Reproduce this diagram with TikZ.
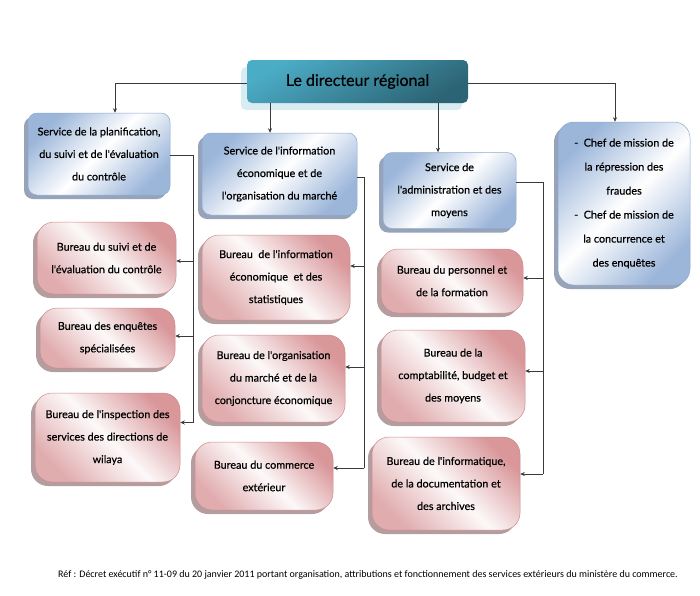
\documentclass[tikz,border=0pt]{standalone}
\usepackage{fontspec}
\setmainfont{Lato}
\newfontfamily\boxfont{Lato}[FakeBold=0.5]
\newfontfamily\footfont{Carlito}
\usetikzlibrary{shadows,arrows.meta,calc}
\definecolor{bluedk}{HTML}{9CB6DA}
\definecolor{bluebd}{HTML}{8EA9CF}
\definecolor{bluesh}{HTML}{7D8CA6}
\definecolor{pinkdk}{HTML}{D9979A}
\definecolor{pinkbd}{HTML}{CD8A8E}
\definecolor{pinksh}{HTML}{A08586}
\definecolor{tealA}{HTML}{4BACC6}
\definecolor{tealB}{HTML}{2C6475}
\definecolor{tealsh}{HTML}{D8ECF2}
\definecolor{linec}{HTML}{3A3A3A}
\begin{document}
\begin{tikzpicture}[x=1pt,y=-1pt,
  svc/.style={rectangle, rounded corners=9pt, draw=bluebd, line width=0.5pt,
    top color=bluedk, bottom color=bluedk, middle color=white, shading angle=45,
    drop shadow={shadow xshift=-4pt,shadow yshift=-4pt,fill=bluesh,opacity=0.8},
    align=center, font=\boxfont\fontsize{10.8}{22.5}\selectfont, inner sep=1pt},
  bur/.style={rectangle, rounded corners=17pt, draw=pinkbd, line width=0.5pt,
    top color=pinkdk, bottom color=pinkdk!80, middle color=white!94!pinkdk, shading angle=-45,
    drop shadow={shadow xshift=-4pt,shadow yshift=-4pt,fill=pinksh,opacity=0.8},
    align=center, font=\boxfont\fontsize{10.8}{22.5}\selectfont, inner sep=1pt},
  dirbox/.style={rectangle, rounded corners=5pt, draw=none,
    top color=tealA, bottom color=tealB, shading angle=30,
    drop shadow={shadow xshift=-6pt,shadow yshift=-7pt,fill=tealsh,opacity=1},
    font=\boxfont\fontsize{16}{18}\selectfont},
  conn/.style={draw=linec, line width=0.6pt},
  arr/.style={conn, -{Stealth[length=4.5pt,width=4pt]}}
]
\useasboundingbox (0,0) rectangle (700,595);

% director
\node[dirbox, minimum width=221pt, minimum height=43pt] (dir) at (357.5,81.5) {Le directeur régional};

% services
\node[svc, minimum width=142pt, minimum height=82pt] (S1) at (99,154)
  {Service de la planification,\\ du suivi et de l'évaluation\\ du contrôle};
\node[svc, minimum width=155pt, minimum height=82pt] (S2) at (279.5,174)
  {Service de l'information\\ économique et de\\ l'organisation du marché};
\node[svc, minimum width=133pt, minimum height=76pt] (S3) at (449.5,190.5)
  {Service de\\ l'administration et des\\ moyens};
\node[svc, rounded corners=16pt, minimum width=132pt, minimum height=163pt,
      font=\boxfont\fontsize{10.8}{24}\selectfont] (S4) at (624,203.5)
  {-\ \ Chef de mission de\\ la répression des\\ fraudes\\ -\ \ Chef de mission de\\ la concurrence et\\ des enquêtes};

% bureaux, left
\node[bur, minimum width=139pt, minimum height=72pt] (B1) at (106.5,258)
  {Bureau du suivi et de\\ l'évaluation du contrôle};
\node[bur, minimum width=135pt, minimum height=60pt] (B2) at (107.5,338)
  {Bureau des enquêtes\\ spécialisées};
\node[bur, minimum width=145pt, minimum height=89pt] (B3) at (107.5,437.5)
  {Bureau de l'inspection des\\ services des directions de\\ wilaya};

% bureaux, middle
\node[bur, minimum width=148pt, minimum height=85pt] (M1) at (276,277.5)
  {Bureau\ \ de l'information\\ économique\ \ et des\\ statistiques};
\node[bur, minimum width=143pt, minimum height=87pt] (M2) at (273.5,378.5)
  {Bureau de l'organisation\\ du marché et de la\\ conjoncture économique};
\node[bur, minimum width=138pt, minimum height=68pt] (M3) at (264,476)
  {Bureau du commerce\\ extérieur};

% bureaux, right
\node[bur, minimum width=142pt, minimum height=64pt] (R1) at (452,281)
  {Bureau du personnel et\\ de la formation};
\node[bur, minimum width=144pt, minimum height=92pt] (R2) at (453,376)
  {Bureau de la\\ comptabilité, budget et\\ des moyens};
\node[bur, minimum width=148pt, minimum height=93pt] (R3) at (446,483.5)
  {Bureau de l'informatique,\\ de la documentation et\\ des archives};

% top connectors
\coordinate (t1) at ([xshift=16pt]S1.north);
\coordinate (t4) at ([xshift=-9pt]S4.north);
\coordinate (t2) at ([xshift=-9.5pt]S2.north);
\coordinate (t3) at ([xshift=-11.5pt]S3.north);
\draw[arr] ([yshift=-1.5pt]dir.west) -| (t1);
\draw[arr] ([yshift=-1.5pt]dir.east) -| (t4);
\draw[arr] (t2 |- dir.south) -- (t2);
\draw[arr] (t3 |- dir.south) -- (t3);

% left bus
\coordinate (lb) at (193,155);
\coordinate (b3a) at ([yshift=15pt]B3.east);
\draw[conn] ([yshift=-1pt]S1.east) -- (lb) -- (lb |- b3a);
\draw[arr] (lb |- B1.east) ++(0,3) -- ([yshift=-3pt]B1.east);
\draw[arr] (lb |- B2.east) ++(0,-2) -- ([yshift=2pt]B2.east);
\draw[arr] (lb |- b3a) -- (b3a);

% middle bus
\coordinate (mb) at (364,177);
\coordinate (m1a) at ([yshift=11.5pt]M1.east);
\coordinate (m2a) at ([yshift=11.5pt]M2.east);
\coordinate (m3a) at ([yshift=8pt]M3.east);
\draw[conn] ([yshift=-3pt]S2.east) -- (mb) -- (mb |- m3a);
\draw[arr] (mb |- m1a) -- (m1a);
\draw[arr] (mb |- m2a) -- (m2a);
\draw[arr] (mb |- m3a) -- (m3a);

% right bus
\coordinate (rb) at (543,182);
\coordinate (r1a) at ([yshift=3pt]R1.east);
\coordinate (r2a) at ([yshift=5pt]R2.east);
\coordinate (r3a) at ([yshift=9.5pt]R3.east);
\draw[conn] ([yshift=8.5pt]S3.east) -- (rb) -- (rb |- r3a);
\draw[arr] (rb |- r1a) -- (r1a);
\draw[arr] (rb |- r2a) -- (r2a);
\draw[arr] (rb |- r3a) -- (r3a);

% reference
\node[anchor=west, inner sep=0pt, font=\footfont\fontsize{10}{12}\selectfont] (ref) at (58,575)
  {Réf : Décret exécutif n° 11-09 du 20 janvier 2011 portant organisation, attributions et fonctionnement des services extérieurs du ministère du commerce.};
\end{tikzpicture}
\end{document}
